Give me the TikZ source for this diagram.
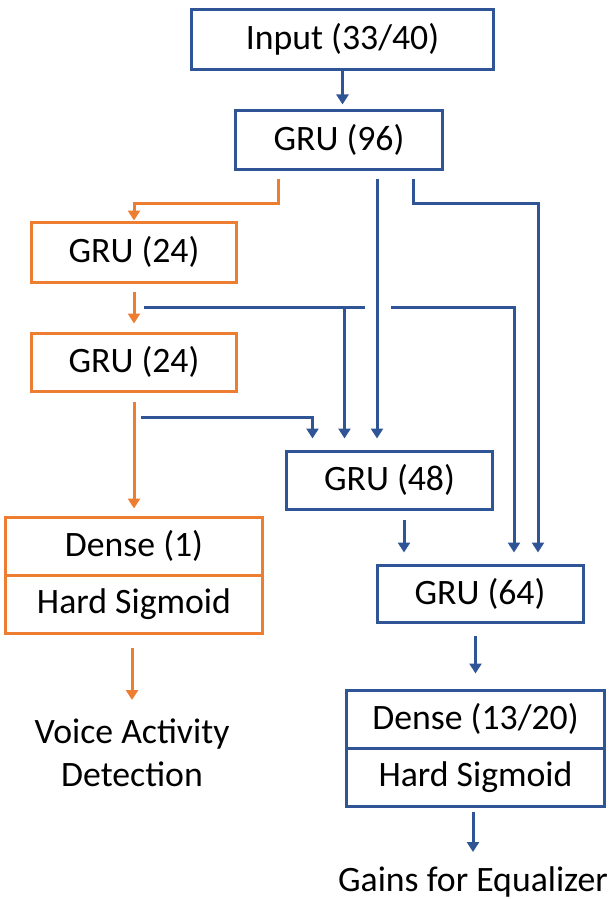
\documentclass[tikz,border=0pt]{standalone}
\usepackage{fontspec}
\setmainfont{Carlito}
\usetikzlibrary{calc, arrows.meta}
\definecolor{netblue}{HTML}{2F5597}
\definecolor{vadorange}{HTML}{ED7D31}

\begin{document}
\begin{tikzpicture}[x=0.03cm, y=-0.03cm, line width=0.09cm,
  bluebox/.style={draw=netblue, rectangle, inner sep=0pt, minimum width=6.18cm,
    minimum height=1.74cm, font=\fontsize{30.5}{36.6}\selectfont},
  orangebox/.style={bluebox, draw=vadorange},
  outtext/.style={inner sep=0pt, anchor=north, align=center, font=\fontsize{30.5}{36.6}\selectfont},
  tip/.style={-{Triangle[length=0.3cm, width=0.36cm]}}]
  \useasboundingbox (0,0) rectangle (615,899);

  % layers
  \node[bluebox, minimum width=9.03cm, minimum height=1.77cm] (input) at (342.5,39.5) {Input (33/40)};
  \node[bluebox] (gru96) at (339,140) {GRU (96)};
  \node[orangebox, minimum width=6.12cm, minimum height=1.8cm] (gru24a) at (134,252) {GRU (24)};
  \node[orangebox, minimum width=6.12cm] (gru24b) at (134,362) {GRU (24)};
  \node[bluebox, minimum width=6.15cm] (gru48) at (389.5,480) {GRU (48)};
  \node[bluebox, minimum height=1.71cm] (gru64) at (480,593.5) {GRU (64)};
  \node[orangebox, minimum width=7.68cm] (dense1) at (134,546) {Dense (1)};
  \node[orangebox, minimum width=7.68cm] (hsig1) at (134,604) {Hard Sigmoid};
  \node[bluebox, minimum width=7.71cm] (dense13) at (475.5,719) {Dense (13/20)};
  \node[bluebox, minimum width=7.71cm] (hsig13) at (475.5,777) {Hard Sigmoid};
  \node[outtext] (vad) at (132,717) {Voice Activity\\Detection};
  \node[outtext] (gains) at (473,865) {Gains for Equalizer};

  % feed lines
  \coordinate (feedA) at (144,307);
  \coordinate (hopL) at (365,307);
  \coordinate (hopR) at (391,307);
  \coordinate (feedB) at (141,417);
  \coordinate (in48a) at ($(gru48.north)+(-77,0)$);
  \coordinate (in48b) at ($(gru48.north)+(-45,0)$);
  \coordinate (out48) at ($(gru48.south)+(14.5,0)$);

  % main path
  \draw[netblue, tip, shorten >=0.15cm] (input.south) -- (input.south |- gru96.north);
  \draw[netblue, tip, shorten >=0.33cm] ($(gru96.south)+(38,8)$) coordinate (tap96) -- (tap96 |- gru48.north);
  \draw[netblue, tip, shorten >=0.33cm] ($(gru96.south)+(74,8)$) -- ++(0,25) -| ($(gru64.north)+(58,0)$);
  \draw[netblue, tip, shorten <=0.27cm, shorten >=0.33cm] (out48) -- (out48 |- gru64.north);
  \draw[netblue, tip, shorten <=0.36cm, shorten >=0.45cm] (dense13.north |- gru64.south) -- (dense13.north);
  \draw[netblue, tip, shorten <=0.12cm, shorten >=0.39cm] (gains.north |- hsig13.south) -- (gains.north);

  % VAD branch
  \draw[vadorange, tip] ($(gru96.south)+(-61,8)$) -- ++(0,25) -| (gru24a.north);
  \draw[vadorange, tip, shorten <=0.24cm, shorten >=0.24cm] (gru24a) -- (gru24b);
  \draw[vadorange, tip, shorten <=0.27cm, shorten >=0.21cm] (gru24b) -- (dense1);
  \draw[vadorange, tip, shorten <=0.39cm, shorten >=0.51cm] (vad.north |- hsig1.south) -- (vad.north);

  % skip connections
  \draw[netblue] (feedA) -- (hopL);
  \draw[netblue, tip, shorten >=0.33cm] (hopR) -| ($(gru64.north)+(34,0)$);
  \draw[netblue, tip, shorten >=0.33cm] (in48b |- feedA) -- (in48b);
  \draw[netblue, tip, shorten >=0.33cm] (feedB) -| (in48a);
\end{tikzpicture}
\end{document}
